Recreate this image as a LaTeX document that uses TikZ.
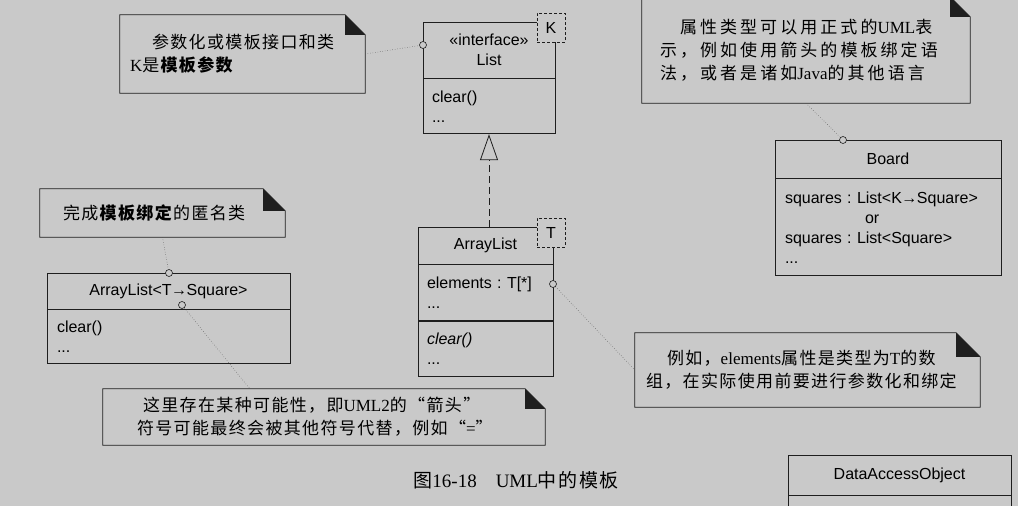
\documentclass[tikz,border=0pt]{standalone}
\usepackage{fontspec}
\setmainfont{Liberation Serif}
\setsansfont{Liberation Sans}
\newfontfamily\cjk{Noto Sans CJK SC}[LetterSpace=8]
\usepackage{tikz}
\usetikzlibrary{arrows.meta,positioning}

\definecolor{paper}{RGB}{201,201,201}
\definecolor{ink}{RGB}{30,30,30}

% latin words inside the chinese notes
\newcommand{\lat}[1]{{\rmfamily #1}}
% small binding arrow, as in T->Square
\newcommand{\bind}{\kern-0.5pt{\fontsize{16}{16}\selectfont →}\kern-0.5pt}
% outline of a note with its black folded corner
\newcommand{\notefold}[2]{%
  \draw[noteline] (#1.north west) -- ([xshift=-#2pt]#1.north east) -- ([yshift=-#2pt]#1.north east) -- (#1.south east) -- (#1.south west) -- cycle;
  \fill[ink] ([xshift=-#2pt]#1.north east) -- ([xshift=-#2pt,yshift=-#2pt]#1.north east) -- ([yshift=-#2pt]#1.north east) -- cycle;}

\begin{document}
\begin{tikzpicture}[x=1pt, y=-1pt,
    noteline/.style={draw=ink, line width=0.7pt},
    note/.style={inner ysep=0pt, align=left, font=\cjk\fontsize{17}{23}\selectfont},
    box/.style={draw=ink, line width=0.8pt, inner ysep=0pt, align=center, font=\sffamily\fontsize{16}{20}\selectfont\frenchspacing},
    tparam/.style={draw=ink, dash pattern=on 3pt off 2pt, fill=paper, line width=0.8pt, minimum width=28pt, minimum height=29pt, inner sep=0pt, font=\sffamily\fontsize{16}{20}\selectfont},
    port/.style={circle, draw=ink, fill=paper, line width=0.6pt, minimum size=7pt, inner sep=0pt},
    link/.style={ink!75, line width=0.5pt, dotted},
    realize/.style={draw=ink, line width=0.8pt, dash pattern=on 7pt off 4pt, -{Triangle[open, length=26pt, width=18pt]}}]

    % Background and page size
    \fill[paper] (0,0) rectangle (1018,506);
    \useasboundingbox (0,0) rectangle (1018,506);

    % Interface List with parameter K
    \node[box, minimum width=132pt, minimum height=56pt] (listName) at (489,50) {«interface»\\List};
    \node[box, align=left, minimum height=55pt, inner xsep=9pt, text width=114pt, anchor=north] (listOps) at (listName.south) {clear()\\...};
    \node[tparam] (kParam) at (551,27.5) {K};

    % Class ArrayList with parameter T
    \node[box, minimum width=135pt, minimum height=37pt] (alName) at (485.5,245.5) {ArrayList};
    \node[box, align=left, minimum height=56pt, inner xsep=9pt, text width=117pt, anchor=north] (alAttr) at (alName.south) {elements : T[*]\\...};
    \node[box, align=left, minimum height=55pt, inner xsep=9pt, text width=117pt, anchor=north] (alOps) at (alAttr.south) {\textit{clear()}\\...};
    \node[tparam] (tParam) at (551,232.5) {T};

    % ArrayList realizes List
    \draw[realize] (listOps.south |- alName.north) -- (listOps.south);

    % Anonymous bound class
    \node[box, minimum width=243pt, minimum height=36pt] (anName) at (168.5,291) {ArrayList<T\bind Square>};
    \node[box, align=left, minimum height=54pt, inner xsep=10pt, text width=223pt, anchor=north] (anOps) at (anName.south) {clear()\\...};

    % Board
    \node[box, minimum width=226pt, minimum height=38pt] (bdName) at (888,159) {Board};
    \node[box, align=left, minimum height=97pt, inner xsep=10pt, text width=206pt, anchor=north] (bdAttr) at (bdName.south) {squares : List<K\bind Square>\\\hspace*{80pt}or\\squares : List<Square>\\...};

    % DataAccessObject (cut by the page)
    \node[box, minimum width=223pt, minimum height=40pt] (daoName) at (899.5,475) {DataAccessObject};
    \node[box, minimum width=223pt, minimum height=45pt, anchor=north] (daoAttr) at (daoName.south) {};

    % Note anchors on the classes
    \node[port] (pList) at (423,45) {};
    \node[port] (pElems) at (553,284) {};
    \node[port] (pBoard) at (843,140) {};
    \node[port] (pAnon) at (169,273) {};
    \node[port] (pBind) at (182,305) {};

    % Notes
    \node[note, minimum height=78pt, inner xsep=10pt, text width=225pt] (noteParam) at (242.5,54)
        {\hspace*{22pt}参数化或模板接口和类\\\lat{K}是\textbf{模板参数}};
    \notefold{noteParam}{20}

    \node[note, minimum height=106pt, inner xsep=18pt, text width=292pt] (noteBoard) at (806,50)
        {\addfontfeatures{LetterSpace=18}\hspace*{20pt}属性类型可以用正式的\lat{UML}表\\示，例如使用箭头的模板绑定语\\法，或者是诸如\lat{Java}的其他语言};
    \notefold{noteBoard}{20}

    \node[note, minimum height=48pt, inner xsep=23pt, text width=199pt] (noteAnon) at (162.5,213)
        {完成\textbf{模板绑定}的匿名类};
    \notefold{noteAnon}{22}

    \node[note, minimum height=74pt, inner xsep=11pt, text width=323pt] (noteElems) at (807.5,370)
        {\hspace*{21pt}例如，\lat{elements}属性是类型为\lat{T}的数\\组，在实际使用前要进行参数化和绑定};
    \notefold{noteElems}{24}

    \node[note, minimum height=56pt, inner xsep=34pt, text width=374pt] (noteArrow) at (324,417)
        {\hspace*{6pt}这里存在某种可能性，即\lat{UML2}的“箭头”\\符号可能最终会被其他符号代替，例如“\lat{=}”};
    \notefold{noteArrow}{20}

    % Dotted note links
    \draw[link] (noteParam.east) -- (pList);
    \draw[link] (noteBoard.south) -- (pBoard);
    \draw[link] (noteAnon.south) -- (pAnon);
    \draw[link] (pBind) -- ([xshift=147pt]noteArrow.north west);
    \draw[link] (pElems) -- (noteElems.west);

    % Caption
    \node[font=\cjk\fontsize{19}{23}\selectfont] (caption) at (516,480) {图\lat{16-18}\hspace{1em}\lat{UML}中的模板};

\end{tikzpicture}
\end{document}
